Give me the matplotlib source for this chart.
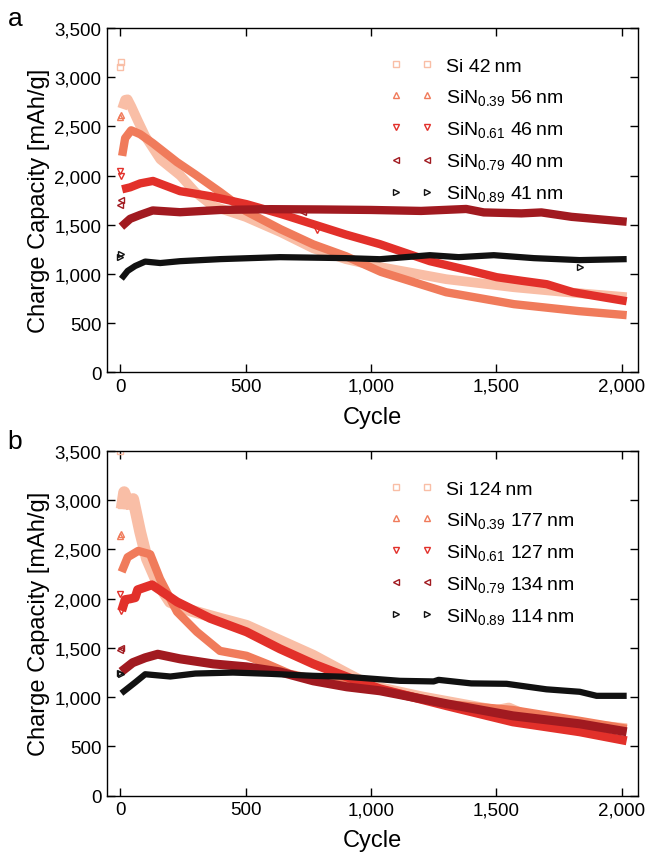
import matplotlib.pyplot as plt
from matplotlib.ticker import FuncFormatter

plt.rcParams['font.family'] = ['Liberation Sans', 'DejaVu Sans']
plt.rcParams['mathtext.default'] = 'regular'

# colours for the five films
colors = ['#f9bea6', '#f07b5b', '#e2302a', '#a11a20', '#111111']
markers = ['s', '^', 'v', '<', '>']

# ---------------- panel a (thin films) ----------------
labels_a = ['Si 42\u2009nm', 'SiN$_{0.39}$ 56\u2009nm', 'SiN$_{0.61}$ 46\u2009nm',
            'SiN$_{0.79}$ 40\u2009nm', 'SiN$_{0.89}$ 41\u2009nm']

si_a_cyc = [8, 20, 30, 45, 70, 100, 160, 240, 300, 370, 500, 640, 770, 900, 1040, 1300, 1570, 1780, 2020]
si_a_cap = [2680, 2770, 2775, 2700, 2560, 2400, 2165, 2000, 1830, 1690, 1580, 1424, 1260, 1150, 1068, 946, 864, 814, 763]

n39_a_cyc = [8, 20, 44, 80, 130, 227, 300, 400, 500, 640, 770, 900, 1040, 1300, 1570, 1830, 2020]
n39_a_cap = [2200, 2380, 2460, 2420, 2330, 2136, 2010, 1830, 1640, 1454, 1300, 1180, 1020, 813, 692, 621, 580]

n61_a_cyc = [8, 40, 80, 131, 239, 359, 504, 640, 770, 900, 1036, 1235, 1400, 1502, 1600, 1701, 1805, 2020]
n61_a_cap = [1860, 1880, 1920, 1945, 1841, 1790, 1709, 1610, 1505, 1400, 1302, 1129, 1030, 966, 930, 895, 814, 722]

n79_a_cyc = [5, 40, 80, 130, 239, 400, 600, 800, 1000, 1200, 1380, 1450, 1600, 1680, 1800, 2020]
n79_a_cap = [1480, 1560, 1600, 1645, 1627, 1650, 1658, 1655, 1650, 1640, 1660, 1625, 1615, 1625, 1580, 1530]

n89_a_cyc = [5, 30, 60, 100, 160, 239, 400, 637, 900, 1036, 1235, 1350, 1490, 1650, 1832, 2020]
n89_a_cap = [950, 1030, 1080, 1125, 1110, 1129, 1150, 1170, 1160, 1149, 1190, 1170, 1190, 1160, 1140, 1150]

# stray points (first cycles and odd readings)
odd_a_cyc = [[1, 3], [1, 3], [1, 3, 785], [1, 3, 729], [1, 3, 1833]]
odd_a_cap = [[3100, 3150], [2593, 2620], [2044, 2000, 1444], [1700, 1750, 1627], [1170, 1200, 1068]]

# ---------------- panel b (thick films) ----------------
labels_b = ['Si 124\u2009nm', 'SiN$_{0.39}$ 177\u2009nm', 'SiN$_{0.61}$ 127\u2009nm',
            'SiN$_{0.79}$ 134\u2009nm', 'SiN$_{0.89}$ 114\u2009nm']

si_b_cyc = [6, 16, 35, 52, 80, 107, 147, 199, 280, 371, 504, 637, 770, 904, 1000, 1200, 1500, 1550, 1600, 1800, 2020]
si_b_cap = [2910, 3080, 2960, 3010, 2677, 2403, 2170, 1967, 1880, 1815, 1724, 1572, 1420, 1237, 1110, 1000, 860, 885, 830, 730, 675]

n39_b_cyc = [6, 30, 72, 120, 159, 227, 306, 398, 504, 585, 677, 770, 904, 1036, 1303, 1566, 1833, 2020]
n39_b_cap = [2271, 2420, 2484, 2450, 2200, 1866, 1663, 1470, 1420, 1338, 1237, 1186, 1136, 1080, 930, 870, 760, 680]

n61_b_cyc = [6, 20, 40, 60, 70, 127, 227, 359, 504, 637, 770, 904, 1036, 1303, 1566, 1833, 2020]
n61_b_cap = [1876, 1990, 1998, 2010, 2090, 2140, 1967, 1800, 1663, 1491, 1338, 1206, 1085, 913, 750, 649, 558]

n79_b_cyc = [5, 50, 100, 150, 239, 371, 504, 637, 770, 904, 1036, 1303, 1566, 1833, 2020]
n79_b_cap = [1260, 1350, 1400, 1436, 1389, 1338, 1308, 1257, 1166, 1105, 1065, 933, 811, 730, 649]

n89_b_cyc = [5, 30, 60, 100, 200, 300, 450, 600, 770, 904, 1116, 1250, 1270, 1400, 1541, 1700, 1833, 1900, 2020]
n89_b_cap = [1040, 1090, 1150, 1233, 1210, 1240, 1250, 1237, 1217, 1207, 1166, 1160, 1176, 1140, 1136, 1080, 1055, 1014, 1014]

odd_b_cyc = [[1, 3], [1, 3], [1, 3], [1, 3], [1, 3]]
odd_b_cap = [[3500, 2950], [2636, 2660], [2048, 1876], [1480, 1500], [1250, 1240]]

panels = [
    ('a', labels_a,
     [(si_a_cyc, si_a_cap), (n39_a_cyc, n39_a_cap), (n61_a_cyc, n61_a_cap),
      (n79_a_cyc, n79_a_cap), (n89_a_cyc, n89_a_cap)],
     odd_a_cyc, odd_a_cap, [7, 6, 6, 6, 4.5]),
    ('b', labels_b,
     [(si_b_cyc, si_b_cap), (n39_b_cyc, n39_b_cap), (n61_b_cyc, n61_b_cap),
      (n79_b_cyc, n79_b_cap), (n89_b_cyc, n89_b_cap)],
     odd_b_cyc, odd_b_cap, [8.5, 6, 6.5, 6.5, 4.5]),
]

fig = plt.figure(figsize=(6.49, 8.54), dpi=100)
boxes = [[0.165, 0.563, 0.818, 0.403], [0.165, 0.067, 0.818, 0.404]]

for box, (tag, labels, series, odd_c, odd_v, band_w) in zip(boxes, panels):
    ax = fig.add_axes(box)
    for i, (cyc, cap) in enumerate(series):
        ax.plot(cyc, cap, color=colors[i], lw=band_w[i], solid_capstyle='butt',
                solid_joinstyle='round', zorder=2 + i)
        ax.plot(odd_c[i], odd_v[i], linestyle='none', marker=markers[i], ms=5,
                mfc='none', mec=colors[i], mew=1.0, label=labels[i], zorder=2 + i)

    ax.set_xlim(-52, 2065)
    ax.set_ylim(0, 3500)
    ax.set_xticks([0, 500, 1000, 1500, 2000])
    ax.set_yticks(range(0, 3501, 500))
    fmt = FuncFormatter(lambda v, p: f'{int(v):,}')
    ax.xaxis.set_major_formatter(fmt)
    ax.yaxis.set_major_formatter(fmt)
    ax.tick_params(direction='in', length=6, width=1, top=True, right=True,
                   labelsize=13.5, pad=4)
    for s in ax.spines.values():
        s.set_linewidth(1)
    ax.set_xlabel('Cycle', fontsize=17, labelpad=8)
    ax.set_ylabel('Charge Capacity [mAh/g]', fontsize=17, labelpad=3)

    ax.legend(loc='upper left', bbox_to_anchor=(0.5, 0.965), frameon=False,
              numpoints=2, handlelength=2.2, handletextpad=0.7,
              labelspacing=0.62, fontsize=14)
    fig.text(0.012, box[1] + box[3] + 0.012, tag, fontsize=19, va='center')

fig.savefig('out.png', dpi=100)
